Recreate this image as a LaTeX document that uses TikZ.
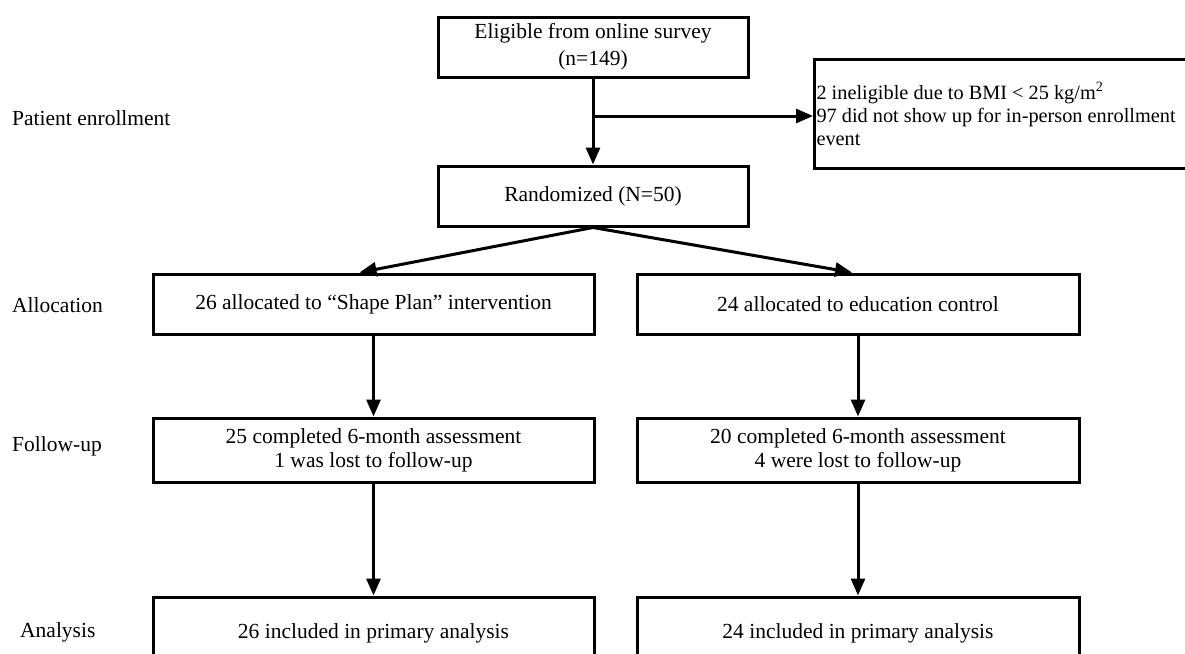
\documentclass[tikz,border=0pt]{standalone}
\usepackage{fontspec}
\setmainfont{Liberation Serif}
\usetikzlibrary{arrows.meta}
\begin{document}
\begin{tikzpicture}[x=1pt,y=-1pt,
  box/.style={draw, line width=3pt, align=center, inner sep=0pt, font=\fontsize{21.5}{24}\selectfont},
  lab/.style={anchor=west, inner sep=0pt, font=\fontsize{21.5}{24}\selectfont},
  arr/.style={line width=3pt, -{Triangle[length=17pt,width=14pt]}},
  ln/.style={line width=3pt}]
\useasboundingbox (0,0) rectangle (1185,653);
\clip (0,0) rectangle (1185,653);
% left labels
\node[lab] (l1) at (12,118) {Patient enrollment};
\node[lab] (l2) at (12,305) {Allocation};
\node[lab] (l3) at (12,446) {Follow-up};
\node[lab] (l4) at (20,632) {Analysis};
% boxes
\node[box, minimum width=310pt, minimum height=60pt, font=\fontsize{21.5}{27}\selectfont] (elig) at (593,47) {Eligible from online survey\\(n=149)};
\node[box, minimum width=310pt, minimum height=60pt] (rand) at (593,196) {Randomized (N=50)};
\node[box, anchor=north west, minimum height=109pt, text width=440pt, align=flush left, inner xsep=2pt,
      font=\fontsize{20.3}{23}\selectfont] (excl) at (813,58)
  {2 ineligible due to BMI < 25 kg/m\textsuperscript{2}\\97 did not show up for in-person enrollment\\event};
\node[box, minimum width=441pt, minimum height=60pt] (allocL) at (373.5,304) {26 allocated to “Shape Plan” intervention};
\node[box, minimum width=442pt, minimum height=60pt] (allocR) at (858,304) {24 allocated to education control};
\node[box, minimum width=441pt, minimum height=64pt] (followL) at (373.5,450) {25 completed 6-month assessment\\1 was lost to follow-up};
\node[box, minimum width=442pt, minimum height=64pt] (followR) at (858,450) {20 completed 6-month assessment\\4 were lost to follow-up};
\node[box, minimum width=441pt, minimum height=72pt] (anaL) at (373.5,633) {26 included in primary analysis};
\node[box, minimum width=442pt, minimum height=72pt] (anaR) at (858,633) {24 included in primary analysis};
% connectors
\coordinate (br) at (593,116);
\draw[arr] (elig.south) -- (rand.north);
\draw[arr] (br) -- (excl.west |- br);
\draw[arr] (rand.south) -- ([xshift=-14pt]allocL.north);
\draw[arr] (rand.south) -- ([xshift=-6pt]allocR.north);
\draw[arr] (allocL.south) -- (followL.north);
\draw[arr] (allocR.south) -- (followR.north);
\draw[arr] (followL.south) -- (anaL.north);
\draw[arr] (followR.south) -- (anaR.north);
\end{tikzpicture}
\end{document}
